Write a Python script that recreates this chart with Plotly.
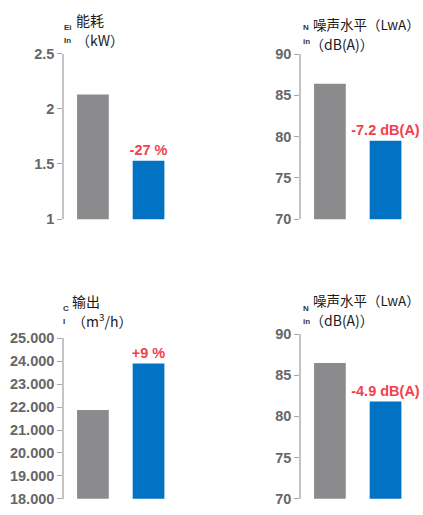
import plotly.graph_objects as go

W, H = 423, 515

categories = ["Before", "After"]

# Panel 1: energy input (kW)
p1_values = [2.13, 1.53]
p1_labels = ["", "-27 %"]
p1_ticks = [1, 1.5, 2, 2.5]
p1_ticktext = ["1", "1.5", "2", "2.5"]

# Panel 2: noise level (dB(A))
p2_values = [86.4, 79.5]
p2_labels = ["", "-7.2 dB(A)"]
p2_ticks = [70, 75, 80, 85, 90]
p2_ticktext = ["70", "75", "80", "85", "90"]

# Panel 3: output (m3/h)
p3_values = [21870, 23900]
p3_labels = ["", "+9 %"]
p3_ticks = [18000, 19000, 20000, 21000, 22000, 23000, 24000, 25000]
p3_ticktext = ["18.000", "19.000", "20.000", "21.000", "22.000", "23.000", "24.000", "25.000"]

# Panel 4: noise level (dB(A))
p4_values = [86.5, 81.8]
p4_labels = ["", "-4.9 dB(A)"]
p4_ticks = [70, 75, 80, 85, 90]
p4_ticktext = ["70", "75", "80", "85", "90"]

GRAY = "#8b8b8e"
BLUE = "#0272c4"
RED = "#f2404f"
TICK_FONT = dict(family="Liberation Sans, Arial", size=14.5, color="#666666", weight=600)
CJK = "Noto Sans CJK SC"

panels = [
    (p1_values, p1_labels, p1_ticks, p1_ticktext, [1, 2.5], (64, 168), (47, 218)),
    (p2_values, p2_labels, p2_ticks, p2_ticktext, [70, 90], (301, 405), (47.5, 218)),
    (p3_values, p3_labels, p3_ticks, p3_ticktext, [18000, 25000], (64, 168), (341, 506.5)),
    (p4_values, p4_labels, p4_ticks, p4_ticktext, [70, 90], (301, 405), (336.5, 506.5)),
]

fig = go.Figure()
layout = {}
for i, (vals, labs, tv, tt, yr, (xl, xr), (yt, yb)) in enumerate(panels, start=1):
    xa = "x" if i == 1 else f"x{i}"
    ya = "y" if i == 1 else f"y{i}"
    fig.add_trace(go.Bar(
        x=[0, 1], y=vals, width=0.57,
        marker=dict(color=[GRAY, BLUE], line=dict(width=0)),
        text=labs, textposition="outside", constraintext="none",
        textfont=dict(family="Liberation Sans, Arial", size=14.5, color=RED, weight="bold"),
        cliponaxis=False, xaxis=xa, yaxis=ya, showlegend=False, hoverinfo="skip",
    ))
    xkey = "xaxis" if i == 1 else f"xaxis{i}"
    ykey = "yaxis" if i == 1 else f"yaxis{i}"
    layout[xkey] = dict(
        domain=[xl / W, xr / W], range=[-0.52, 1.35], anchor=ya,
        showticklabels=False, showgrid=False, zeroline=False, showline=False, ticks="",
    )
    layout[ykey] = dict(
        domain=[(H - yb) / H, (H - yt) / H], range=yr, anchor=xa,
        tickvals=tv, ticktext=tt, tickfont=TICK_FONT,
        showgrid=False, zeroline=False, showline=True, linecolor="#c4c4c4", linewidth=1.5,
        ticks="outside", ticklen=5, tickcolor="#a8a8a8", tickwidth=1,
    )

annotations = []
def txt(x, y, s, size=14, fam=CJK, color="#1a1a1a", bold=False):
    annotations.append(dict(
        x=x / W, y=(H - y) / H, xref="paper", yref="paper", text=("<b>%s</b>" % s) if bold else s,
        showarrow=False, xanchor="left", yanchor="middle",
        font=dict(family=fam, size=size, color=color),
    ))

# Panel titles (with the clipped fragments of the original labels)
txt(62, 20, "Ei", size=8, fam="Liberation Sans", color="#333", bold=True)
txt(62, 34, "In", size=8, fam="Liberation Sans", color="#333", bold=True)
txt(74, 12, "能耗")
txt(74, 33, "（kW）")

txt(301, 20, "N", size=8, fam="Liberation Sans", color="#333", bold=True)
txt(301, 35, "in", size=8, fam="Liberation Sans", color="#333", bold=True)
txt(311, 17, "噪声水平（LwA）", size=13.5)
txt(308, 37, "（dB(A)）")

txt(61, 310, "C", size=8, fam="Liberation Sans", color="#333", bold=True)
txt(61, 324, "I", size=8, fam="Liberation Sans", color="#333", bold=True)
txt(70, 302, "输出")
txt(70, 323, "（m<sup>3</sup>/h）")

txt(301, 310, "N", size=8, fam="Liberation Sans", color="#333", bold=True)
txt(301, 324, "in", size=8, fam="Liberation Sans", color="#333", bold=True)
txt(311, 301, "噪声水平（LwA）", size=13.5)
txt(308, 322, "（dB(A)）")

fig.update_layout(
    width=W, height=H, margin=dict(l=0, r=0, t=0, b=0),
    paper_bgcolor="white", plot_bgcolor="white",
    annotations=annotations, **layout,
)

fig.write_html("out.html")
